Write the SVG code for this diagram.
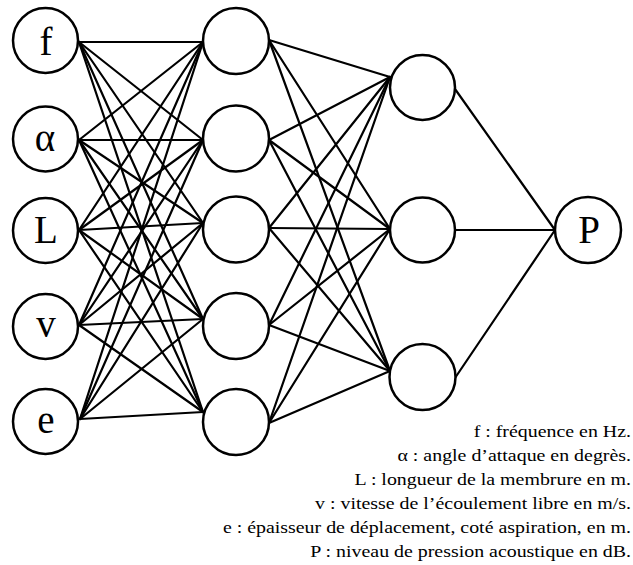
<svg xmlns="http://www.w3.org/2000/svg" width="633" height="565" viewBox="0 0 633 565">
  <style>
    .edge { stroke: #000; stroke-width: 2.2; stroke-linecap: round; fill: none; }
    .neuron { fill: #fff; stroke: #000; stroke-width: 2.5; }
    .sym { font-family: "Liberation Serif", "Times New Roman", serif; font-size: 39px; text-anchor: middle; fill: #000; }
    .legend { font-family: "Liberation Serif", "Times New Roman", serif; font-size: 17px; text-anchor: end; fill: #000; }
  </style>
  <rect width="633" height="565" fill="#fff"/>

  <!-- connectors: input layer -> hidden layer 1 -> hidden layer 2 -> output -->
  <g id="connectors" class="edge">
    <!-- from f -->
    <line x1="79" y1="42" x2="203" y2="42"/>
    <line x1="79" y1="42" x2="203" y2="140"/>
    <line x1="79" y1="42" x2="203" y2="223"/>
    <line x1="79" y1="42" x2="203" y2="319"/>
    <line x1="79" y1="42" x2="203" y2="412"/>
    <!-- from alpha -->
    <line x1="79" y1="140" x2="203" y2="42"/>
    <line x1="79" y1="140" x2="203" y2="140"/>
    <line x1="79" y1="140" x2="203" y2="223"/>
    <line x1="79" y1="140" x2="203" y2="319"/>
    <line x1="79" y1="140" x2="203" y2="412"/>
    <!-- from L -->
    <line x1="79" y1="230" x2="203" y2="42"/>
    <line x1="79" y1="230" x2="203" y2="140"/>
    <line x1="79" y1="230" x2="203" y2="223"/>
    <line x1="79" y1="230" x2="203" y2="319"/>
    <line x1="79" y1="230" x2="203" y2="412"/>
    <!-- from v -->
    <line x1="79" y1="325" x2="203" y2="42"/>
    <line x1="79" y1="325" x2="203" y2="140"/>
    <line x1="79" y1="325" x2="203" y2="223"/>
    <line x1="79" y1="325" x2="203" y2="319"/>
    <line x1="79" y1="325" x2="203" y2="412"/>
    <!-- from e -->
    <line x1="80" y1="419" x2="203" y2="42"/>
    <line x1="80" y1="419" x2="203" y2="140"/>
    <line x1="80" y1="419" x2="203" y2="223"/>
    <line x1="80" y1="419" x2="203" y2="319"/>
    <line x1="80" y1="419" x2="203" y2="412"/>
    <!-- hidden layer 1 -> hidden layer 2 -->
    <line x1="269" y1="40" x2="390" y2="77"/>
    <line x1="269" y1="40" x2="390" y2="229"/>
    <line x1="269" y1="40" x2="390" y2="371"/>
    <line x1="269" y1="140" x2="390" y2="77"/>
    <line x1="269" y1="140" x2="390" y2="229"/>
    <line x1="269" y1="140" x2="390" y2="371"/>
    <line x1="269" y1="228" x2="390" y2="77"/>
    <line x1="269" y1="228" x2="390" y2="229"/>
    <line x1="269" y1="228" x2="390" y2="371"/>
    <line x1="269" y1="325" x2="390" y2="77"/>
    <line x1="269" y1="325" x2="390" y2="229"/>
    <line x1="269" y1="325" x2="390" y2="371"/>
    <line x1="269" y1="423" x2="390" y2="77"/>
    <line x1="269" y1="423" x2="390" y2="229"/>
    <line x1="269" y1="423" x2="390" y2="371"/>
    <!-- hidden layer 2 -> P -->
    <line x1="455" y1="89" x2="555" y2="230"/>
    <line x1="455" y1="230" x2="555" y2="230"/>
    <line x1="455" y1="378" x2="555" y2="230"/>
  </g>

  <!-- input layer -->
  <g id="in-f"><circle class="neuron" cx="45.5" cy="40.5" r="32.5"/><text class="sym" x="46" y="55">f</text></g>
  <g id="in-alpha"><circle class="neuron" cx="45.5" cy="139" r="32.5"/><text class="sym" x="45" y="151">α</text></g>
  <g id="in-L"><circle class="neuron" cx="45.5" cy="230.5" r="32.5"/><text class="sym" x="46" y="243">L</text></g>
  <g id="in-v"><circle class="neuron" cx="45.5" cy="326.5" r="32.5"/><text class="sym" x="46" y="337">v</text></g>
  <g id="in-e"><circle class="neuron" cx="45.5" cy="421.5" r="32.5"/><text class="sym" x="46" y="433">e</text></g>

  <!-- hidden layer 1 -->
  <g id="h1-1"><circle class="neuron" cx="236" cy="41" r="33"/></g>
  <g id="h1-2"><circle class="neuron" cx="236" cy="138.5" r="33"/></g>
  <g id="h1-3"><circle class="neuron" cx="236" cy="229.5" r="33"/></g>
  <g id="h1-4"><circle class="neuron" cx="236" cy="326" r="33"/></g>
  <g id="h1-5"><circle class="neuron" cx="236" cy="422" r="33"/></g>

  <!-- hidden layer 2 -->
  <g id="h2-1"><circle class="neuron" cx="422.5" cy="87.5" r="32.5"/></g>
  <g id="h2-2"><circle class="neuron" cx="422.5" cy="230" r="32.5"/></g>
  <g id="h2-3"><circle class="neuron" cx="422.5" cy="377" r="33"/></g>

  <!-- output -->
  <g id="out-P"><circle class="neuron" cx="588" cy="230" r="33"/><text class="sym" x="589" y="243">P</text></g>

  <!-- legend, right-aligned and set slightly wide -->
  <g id="legend" class="legend" transform="translate(631 0) scale(1.17 1)">
    <text x="0" y="437">f : fréquence en Hz.</text>
    <text x="0" y="461">α : angle d’attaque en degrès.</text>
    <text x="0" y="485">L : longueur de la membrure en m.</text>
    <text x="0" y="509">v : vitesse de l’écoulement libre en m/s.</text>
    <text x="0" y="533">e : épaisseur de déplacement, coté aspiration, en m.</text>
    <text x="0" y="557">P : niveau de pression acoustique en dB.</text>
  </g>
</svg>
